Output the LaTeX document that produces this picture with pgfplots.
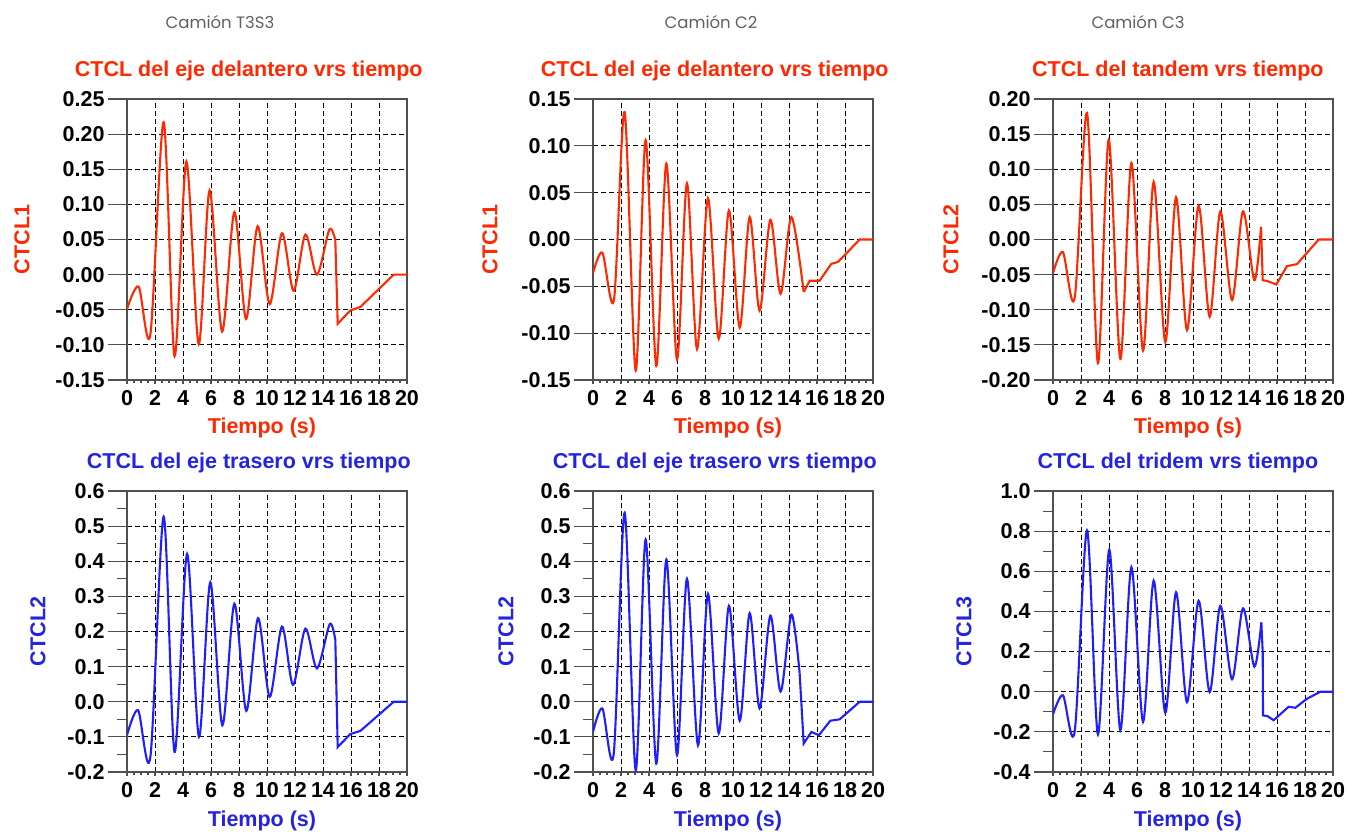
\documentclass[border=0pt]{standalone}
\usepackage{fontspec}
\setmainfont{Liberation Sans}
\newfontfamily\hdr{Poppins}
\usepackage{pgfplots}
\pgfplotsset{compat=1.18}
\definecolor{cred}{RGB}{255,40,0}
\definecolor{cblue}{RGB}{30,30,255}
\definecolor{tblue}{RGB}{35,35,225}
\definecolor{axgray}{RGB}{80,80,80}
\definecolor{hgray}{RGB}{95,95,95}
\newcommand{\fs}{\fontsize{21.5bp}{25bp}\selectfont}
\pgfplotsset{
  base/.style={
    scale only axis, width=280bp, height=281bp,
    xmin=0, xmax=20, xtick={0,2,...,20},
    xticklabels={0,2,4,6,8,10,12,14,16,18,20},
    minor x tick num=3,
    tick align=outside,
    xtick pos=bottom, ytick pos=left,
    major tick length=19bp, minor tick length=10bp,
    xtick style={/pgfplots/major tick length=4bp,/pgfplots/minor tick length=3bp},
    grid=major,
    major grid style={black, line width=0.9bp, dash pattern=on 5bp off 3bp},
    axis line style={axgray, line width=1.2bp},
    tick style={axgray, line width=1.1bp},
    ticklabel style={font=\bfseries\fs},
    xticklabel style={yshift=12bp},
    /pgf/number format/assume math mode=true,
    xlabel={Tiempo (s)},
    xlabel style={at={(axis description cs:0.482,0)}, anchor=base, yshift=-54bp, font=\bfseries\fs},
    title style={at={(axis description cs:0.435,1)}, anchor=base, yshift=17bp, font=\bfseries\fs},
    ylabel style={anchor=center, font=\bfseries\fs},
  },
  redax/.style={base, title style={text=cred}, xlabel style={text=cred}, ylabel style={text=cred}},
  blueax/.style={base, title style={text=tblue}, xlabel style={text=tblue}, ylabel style={text=tblue}},
  rl/.style={cred, line width=2.1bp},
  bl/.style={cblue, line width=2.1bp},
}
\begin{document}
\begin{tikzpicture}
\path[use as bounding box] (0,0) rectangle (1347bp,832bp);
\node[anchor=base, font=\hdr\fontsize{16.5bp}{19bp}\selectfont, text=hgray] at (220bp,803bp) {Camión T3S3};
\node[anchor=base, font=\hdr\fontsize{16.5bp}{19bp}\selectfont, text=hgray] at (711bp,803bp) {Camión C2};
\node[anchor=base, font=\hdr\fontsize{16.5bp}{19bp}\selectfont, text=hgray] at (1138bp,803bp) {Camión C3};

% ---------- Top-left
\begin{axis}[redax, at={(127bp,452bp)}, anchor=south west,
  ymin=-0.15, ymax=0.25, ytick={-0.15,-0.10,...,0.26},
  yticklabels={-0.15,-0.10,-0.05,0.00,0.05,0.10,0.15,0.20,0.25},
  title={CTCL del eje delantero vrs tiempo}, ylabel={CTCL1},
  ylabel style={at={(axis description cs:-0.375,0.5)}}]
\addplot[rl, smooth] coordinates {
(0,-0.049)(0.83,-0.017)(1.67,-0.085)(2.62,0.217)(3.40,-0.116)(4.24,0.161)
(5.12,-0.099)(5.90,0.120)(6.79,-0.081)(7.67,0.089)(8.50,-0.063)(9.33,0.069)
(10.19,-0.042)(11.07,0.059)(11.90,-0.023)(12.74,0.057)(13.57,0.000)(14.45,0.064)(14.88,0.049)};
\addplot[rl] coordinates {
(14.88,0.049)(15.05,-0.070)(15.95,-0.051)(16.67,-0.046)(19.05,0)(20,0)};
\end{axis}

% ---------- Top-middle
\begin{axis}[redax, at={(593bp,452bp)}, anchor=south west,
  ymin=-0.15, ymax=0.15, ytick={-0.15,-0.10,...,0.16},
  yticklabels={-0.15,-0.10,-0.05,0.00,0.05,0.10,0.15},
  title={CTCL del eje delantero vrs tiempo}, ylabel={CTCL1},
  ylabel style={at={(axis description cs:-0.368,0.5)}}]
\addplot[rl, smooth] coordinates {
(0,-0.036)(0.67,-0.014)(1.50,-0.064)(2.26,0.136)(3.05,-0.140)(3.76,0.106)
(4.52,-0.135)(5.24,0.081)(6.00,-0.128)(6.71,0.060)(7.43,-0.117)(8.21,0.044)
(8.98,-0.106)(9.71,0.031)(10.48,-0.094)(11.19,0.024)(11.90,-0.076)(12.67,0.021)
(13.40,-0.058)(14.17,0.024)(15.05,-0.056)};
\addplot[rl] coordinates {
(15.05,-0.056)(15.48,-0.044)(16.19,-0.044)(17.02,-0.026)(17.50,-0.024)(19.05,0)(20,0)};
\end{axis}

% ---------- Top-right
\begin{axis}[redax, at={(1053bp,452bp)}, anchor=south west,
  ymin=-0.20, ymax=0.20, ytick={-0.20,-0.15,...,0.21},
  yticklabels={-0.20,-0.15,-0.10,-0.05,0.00,0.05,0.10,0.15,0.20},
  title={CTCL del tandem vrs tiempo}, ylabel={CTCL2},
  title style={at={(axis description cs:0.446,1)}},
  ylabel style={at={(axis description cs:-0.364,0.5)}}]
\addplot[rl, smooth] coordinates {
(0,-0.048)(0.71,-0.018)(1.55,-0.083)(2.43,0.180)(3.21,-0.176)(3.98,0.142)
(4.81,-0.170)(5.60,0.109)(6.43,-0.158)(7.19,0.082)(8.02,-0.146)(8.79,0.060)
(9.57,-0.129)(10.40,0.048)(11.19,-0.110)(11.95,0.040)(12.79,-0.086)(13.57,0.040)
(14.38,-0.058)(14.86,0.018)};
\addplot[rl] coordinates {
(14.86,0.018)(14.98,-0.058)(15.29,-0.059)(15.95,-0.064)(16.71,-0.038)(17.43,-0.035)(18.98,0)(20,0)};
\end{axis}

% ---------- Bottom-left
\begin{axis}[blueax, at={(127bp,60bp)}, anchor=south west,
  ymin=-0.2, ymax=0.6, ytick={-0.2,-0.1,...,0.61}, minor y tick num=1,
  yticklabels={-0.2,-0.1,0.0,0.1,0.2,0.3,0.4,0.5,0.6},
  title={CTCL del eje trasero vrs tiempo}, ylabel={CTCL2},
  ylabel style={at={(axis description cs:-0.318,0.5)}}]
\addplot[bl, smooth] coordinates {
(0,-0.095)(0.79,-0.024)(1.67,-0.157)(2.62,0.527)(3.40,-0.143)(4.29,0.421)
(5.14,-0.100)(5.95,0.340)(6.81,-0.067)(7.67,0.279)(8.52,-0.026)(9.36,0.238)
(10.19,0.014)(11.07,0.214)(11.86,0.048)(12.74,0.208)(13.57,0.095)(14.48,0.221)(14.88,0.176)};
\addplot[bl] coordinates {
(14.88,0.176)(15.05,-0.129)(15.95,-0.092)(16.67,-0.083)(19.05,0)(20,0)};
\end{axis}

% ---------- Bottom-middle
\begin{axis}[blueax, at={(593bp,60bp)}, anchor=south west,
  ymin=-0.2, ymax=0.6, ytick={-0.2,-0.1,...,0.61}, minor y tick num=1,
  yticklabels={-0.2,-0.1,0.0,0.1,0.2,0.3,0.4,0.5,0.6},
  title={CTCL del eje trasero vrs tiempo}, ylabel={CTCL2},
  ylabel style={at={(axis description cs:-0.311,0.5)}}]
\addplot[bl, smooth] coordinates {
(0,-0.086)(0.67,-0.019)(1.48,-0.148)(2.26,0.538)(3.05,-0.195)(3.76,0.462)
(4.52,-0.176)(5.24,0.405)(6.00,-0.152)(6.71,0.350)(7.50,-0.124)(8.21,0.307)
(8.98,-0.090)(9.71,0.273)(10.48,-0.054)(11.19,0.252)(11.90,-0.019)(12.67,0.245)
(13.40,0.029)(14.17,0.248)(14.76,0.081)};
\addplot[bl] coordinates {
(14.76,0.081)(15.05,-0.119)(15.60,-0.086)(16.14,-0.095)(16.95,-0.054)(17.62,-0.050)(19.05,0)(20,0)};
\end{axis}

% ---------- Bottom-right
\begin{axis}[blueax, at={(1053bp,60bp)}, anchor=south west,
  ymin=-0.4, ymax=1.0, ytick={-0.4,-0.2,...,1.01}, minor y tick num=1,
  yticklabels={-0.4,-0.2,0.0,0.2,0.4,0.6,0.8,1.0},
  title={CTCL del tridem vrs tiempo}, ylabel={CTCL3},
  title style={at={(axis description cs:0.446,1)}},
  ylabel style={at={(axis description cs:-0.318,0.5)}}]
\addplot[bl, smooth] coordinates {
(0,-0.113)(0.71,-0.018)(1.55,-0.197)(2.43,0.803)(3.21,-0.213)(4.02,0.708)
(4.81,-0.192)(5.60,0.620)(6.43,-0.150)(7.19,0.553)(8.02,-0.105)(8.79,0.495)
(9.57,-0.052)(10.40,0.453)(11.19,-0.002)(11.95,0.428)(12.79,0.062)(13.57,0.415)
(14.38,0.125)(14.88,0.345)};
\addplot[bl] coordinates {
(14.88,0.345)(14.98,0.195)(15.00,-0.118)(15.33,-0.122)(15.76,-0.142)(16.83,-0.075)(17.31,-0.080)(18.14,-0.035)(19.10,0)(20,0)};
\end{axis}
\end{tikzpicture}
\end{document}
